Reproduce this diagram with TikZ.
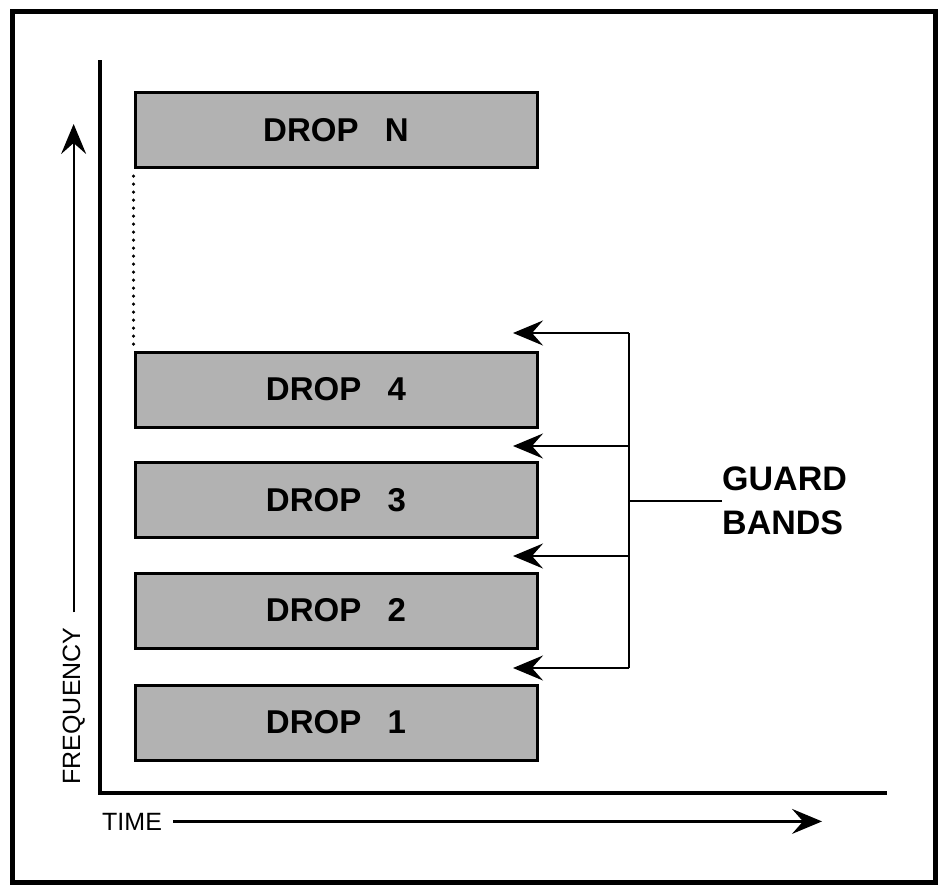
\documentclass[tikz,border=0pt]{standalone}
\usepackage{fontspec}
\setmainfont{Liberation Sans}
\usetikzlibrary{arrows.meta}

\begin{document}
\begin{tikzpicture}[x=1pt,y=-1pt,
  dropbox/.style={draw,line width=3pt,fill=gray!60,minimum width=402pt,minimum height=75pt,
    inner sep=0pt,font=\fontsize{33}{33}\selectfont\bfseries},
  guard/.style={line width=2.2pt,-{Stealth[length=30pt,width=25pt,inset=11pt]}},
  axislabel/.style={font=\fontsize{25}{25}\selectfont,inner sep=0pt}]
\useasboundingbox (0,0) rectangle (942,886);
\draw[line width=5pt] (12,11) rectangle (935,882);
% axes
\draw[line width=3.5pt] (100,60) -- (100,793) -- (887,793);
\node[axislabel,rotate=90,anchor=base] (freq) at (80,706) {FREQUENCY};
\node[axislabel,anchor=base west] (time) at (102,830) {TIME};
\coordinate (ftip) at (72,124);
\coordinate (ttip) at (822,823);
\draw[guard] ([yshift=15pt]freq.east) -- (freq.east |- ftip);
\draw[guard] ([xshift=11pt]time.east) -- (time.east -| ttip);
% drops
\node[dropbox] (dropN) at (336,130) {DROP\hspace{0.8em}N};
\node[dropbox] (drop4) at (336,389.5) {DROP\hspace{0.8em}4};
\node[dropbox] (drop3) at (336,500) {DROP\hspace{0.8em}3};
\node[dropbox] (drop2) at (336,610.5) {DROP\hspace{0.8em}2};
\node[dropbox] (drop1) at (336,722.5) {DROP\hspace{0.8em}1};
\draw[line width=3.5pt,line cap=round,dash pattern=on 0pt off 8pt]
  ([yshift=-7pt]dropN.south west) -- ([yshift=5pt]drop4.north west);
% guard bands
\foreach \n/\y in {a/333,b/446,c/556,d/668}{
  \coordinate (g\n) at (629,\y);
  \coordinate (t\n) at (513,\y);
}
\draw[line width=2.2pt] (ga) -- (gd);
\foreach \n in {a,b,c,d}
  \draw[guard] (g\n) -- (t\n);
\node[anchor=west,align=left,inner sep=0pt,font=\fontsize{34}{44}\selectfont\bfseries]
  (bands) at (722,501) {GUARD\\BANDS};
\draw[line width=2.2pt] (bands.west) -- (bands.west -| ga);
\end{tikzpicture}
\end{document}
